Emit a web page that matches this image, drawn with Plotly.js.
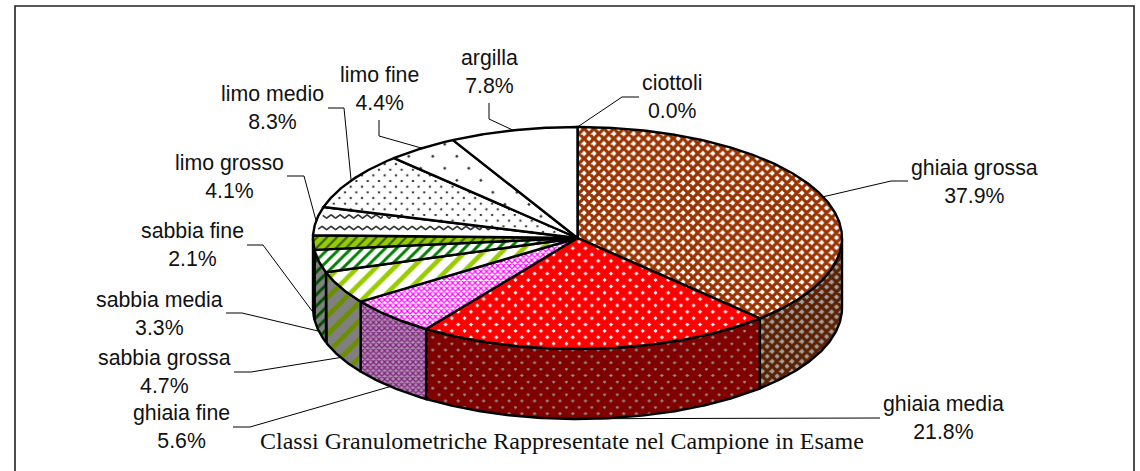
<!DOCTYPE html>
<html>
<head>
<meta charset="utf-8">
<script src="https://cdn.plot.ly/plotly-3.0.1.min.js"></script>
<style>html,body{margin:0;padding:0;background:#fff}#chart{width:1140px;height:471px}</style>
</head>
<body>
<div id="chart"></div>
<script>
// Data
const categories = ['ciottoli','ghiaia grossa','ghiaia media','ghiaia fine','sabbia grossa','sabbia media','sabbia fine','limo grosso','limo medio','limo fine','argilla'];
const values = [0.0,37.9,21.8,5.6,4.7,3.3,2.1,4.1,8.3,4.4,7.8];
const chartTitle = 'Classi Granulometriche Rappresentate nel Campione in Esame';

// Styles: [shape, background, foreground, size, solidity] for top and side faces
const topStyles = [
  ['', '#ffffff', '#ffffff', 8, 0.5],
  ['x', '#ffffff', '#993300', 7, 0.72],
  ['x', '#ffffff', '#ff0000', 9, 0.9],
  ['x', '#ffffff', '#ff00ff', 4, 0.5],
  ['/', '#ffffff', '#99cc00', 13, 0.36],
  ['/', '#ffffff', '#008000', 8, 0.36],
  ['/', '#99cc00', '#2f5a00', 7, 0.3],
  ['', '#ffffff', '#ffffff', 8, 0.5],
  ['x', '#2a2a2a', '#ffffff', 8, 0.93],
  ['x', '#2a2a2a', '#ffffff', 17, 0.98],
  ['', '#ffffff', '#ffffff', 8, 0.5]
];
const sideStyles = [
  ['', '#808080', '#808080', 8, 0.5],
  ['x', '#a0a0a0', '#5a2000', 7, 0.72],
  ['x', '#909090', '#800000', 9, 0.92],
  ['x', '#b090b0', '#802080', 4, 0.5],
  ['/', '#808080', '#6b8e00', 13, 0.36],
  ['/', '#808080', '#005000', 8, 0.36],
  ['/', '#4c6600', '#173000', 7, 0.3],
  ['', '#808080', '#808080', 8, 0.5],
  ['', '#808080', '#808080', 8, 0.5],
  ['', '#808080', '#808080', 8, 0.5],
  ['', '#808080', '#808080', 8, 0.5]
];
const waveSlice = 'limo grosso';

// Layout of the pie, on axes that run over the page
const CX = 577.5, CY = 238, RX = 264.5, RY = 111, DEPTH = 70;
// Label centres and leader elbows: [labelX, labelY, [elbow1X, elbow1Y], [elbow2X, elbow2Y]]
const labelLayout = [
  [672, 96.5, [622, 97], [639, 97]],
  [974, 181.5, [891, 181], [908, 181]],
  [943, 417.5, [880, 418], [880, 418]],
  [181, 427, [250, 427], [233, 427]],
  [164, 372, [251, 372], [234, 372]],
  [159, 314, [242, 313], [226, 313]],
  [192, 245, [263, 245], [247, 245]],
  [229, 176.5, [304, 176], [287, 176]],
  [272, 108, [344, 108], [328, 108]],
  [379, 88.5, [379, 136], [379, 120]],
  [489, 71.5, [489, 119], [489, 103]]
];

const DEG = Math.PI / 180;
const px = a => CX + RX * Math.sin(a * DEG);
const py = a => CY - RY * Math.cos(a * DEG);
const total = values.reduce((s, v) => s + v, 0);
const pattern = s => s[0] ? {shape: s[0], bgcolor: s[1], fgcolor: s[2], size: s[3], solidity: s[4], fillmode: 'replace'} : undefined;

const traces = [];
function poly(x, y, style) {
  const t = {x, y, mode: 'lines', type: 'scatter', fill: 'toself', fillcolor: style[1],
             line: {color: '#000', width: 2.4, shape: 'linear'}, hoverinfo: 'skip', showlegend: false};
  const p = pattern(style);
  if (p) t.fillpattern = p;
  traces.push(t);
}

// cumulative angles
let cum = 0;
const spans = values.map(v => { const a0 = cum / total * 360; cum += v; return [a0, cum / total * 360]; });

// Side walls (front half only)
spans.forEach((sp, i) => {
  const a0 = Math.max(sp[0], 90), a1 = Math.min(sp[1], 270);
  if (a1 <= a0) return;
  const n = Math.max(2, Math.ceil((a1 - a0) * 2));
  const xs = [], ys = [];
  for (let k = 0; k <= n; k++) { const a = a0 + (a1 - a0) * k / n; xs.push(px(a)); ys.push(py(a)); }
  for (let k = n; k >= 0; k--) { const a = a0 + (a1 - a0) * k / n; xs.push(px(a)); ys.push(py(a) + DEPTH); }
  xs.push(xs[0]); ys.push(ys[0]);
  poly(xs, ys, sideStyles[i]);
});

// Top slices
spans.forEach((sp, i) => {
  const n = Math.max(1, Math.ceil((sp[1] - sp[0]) * 2));
  const xs = [CX], ys = [CY];
  for (let k = 0; k <= n; k++) { const a = sp[0] + (sp[1] - sp[0]) * k / n; xs.push(px(a)); ys.push(py(a)); }
  xs.push(CX); ys.push(CY);
  poly(xs, ys, topStyles[i]);
  if (categories[i] === waveSlice) {
    const wx = [], wy = [];
    for (let row = CY - 10; row > CY - RY; row -= 11.5) {
      let open = false;
      for (let x = CX - RX; x < CX; x += 0.75) {
        const y = row + 1.6 * Math.sin(x * 2 * Math.PI / 9);
        const ux = (x - CX) / RX, uy = (y - CY) / RY;
        const r = Math.hypot(ux, uy);
        const ang = (Math.atan2(ux, -uy) / DEG + 360) % 360;
        const inside = r < 0.985 && ang > sp[0] + 0.8 && ang < sp[1] - 0.8;
        if (inside) { wx.push(x); wy.push(y); open = true; }
        else if (open) { wx.push(null); wy.push(null); open = false; }
      }
      wx.push(null); wy.push(null);
    }
    traces.push({x: wx, y: wy, mode: 'lines', type: 'scatter', line: {color: '#333', width: 1.6},
                 hoverinfo: 'skip', showlegend: false});
  }
});

// Leader lines, starting from each slice's mid angle on the pie's outer edge
const lx = [], ly = [];
spans.forEach((sp, i) => {
  const mid = (sp[0] + sp[1]) / 2;
  const front = mid > 90 && mid < 270;
  const l = labelLayout[i];
  lx.push(px(mid), l[2][0], l[3][0], null);
  ly.push(py(mid) + (front ? DEPTH : 0), l[2][1], l[3][1], null);
});
traces.push({x: lx, y: ly, mode: 'lines', type: 'scatter', line: {color: '#000', width: 1},
             hoverinfo: 'skip', showlegend: false});

// Chart frame
traces.push({x: [15, 15, 1134, 1134], y: [471, 6, 6, 471], mode: 'lines', type: 'scatter',
             line: {color: '#222', width: 1.6}, hoverinfo: 'skip', showlegend: false, cliponaxis: false});

const annotations = categories.map((c, i) => ({
  x: labelLayout[i][0], y: labelLayout[i][1], xref: 'x', yref: 'y', showarrow: false,
  xanchor: 'center', yanchor: 'middle', align: 'center',
  text: c + '<br>' + values[i].toFixed(1) + '%',
  font: {family: '"Liberation Sans", Arial, sans-serif', size: 21.3, color: '#111'}
}));
annotations.push({x: 562, y: 441, xref: 'x', yref: 'y', showarrow: false, xanchor: 'center', yanchor: 'middle',
  text: chartTitle, font: {family: '"Liberation Serif", "Times New Roman", serif', size: 24, color: '#111'}});

const layout = {
  width: 1140, height: 471, margin: {l: 0, r: 0, t: 0, b: 0},
  paper_bgcolor: '#fff', plot_bgcolor: '#fff', showlegend: false, hovermode: false,
  xaxis: {range: [0, 1140], visible: false, fixedrange: true},
  yaxis: {range: [471, 0], visible: false, fixedrange: true},
  annotations
};
Plotly.newPlot('chart', traces, layout, {displayModeBar: false, staticPlot: true});
</script>
</body>
</html>
